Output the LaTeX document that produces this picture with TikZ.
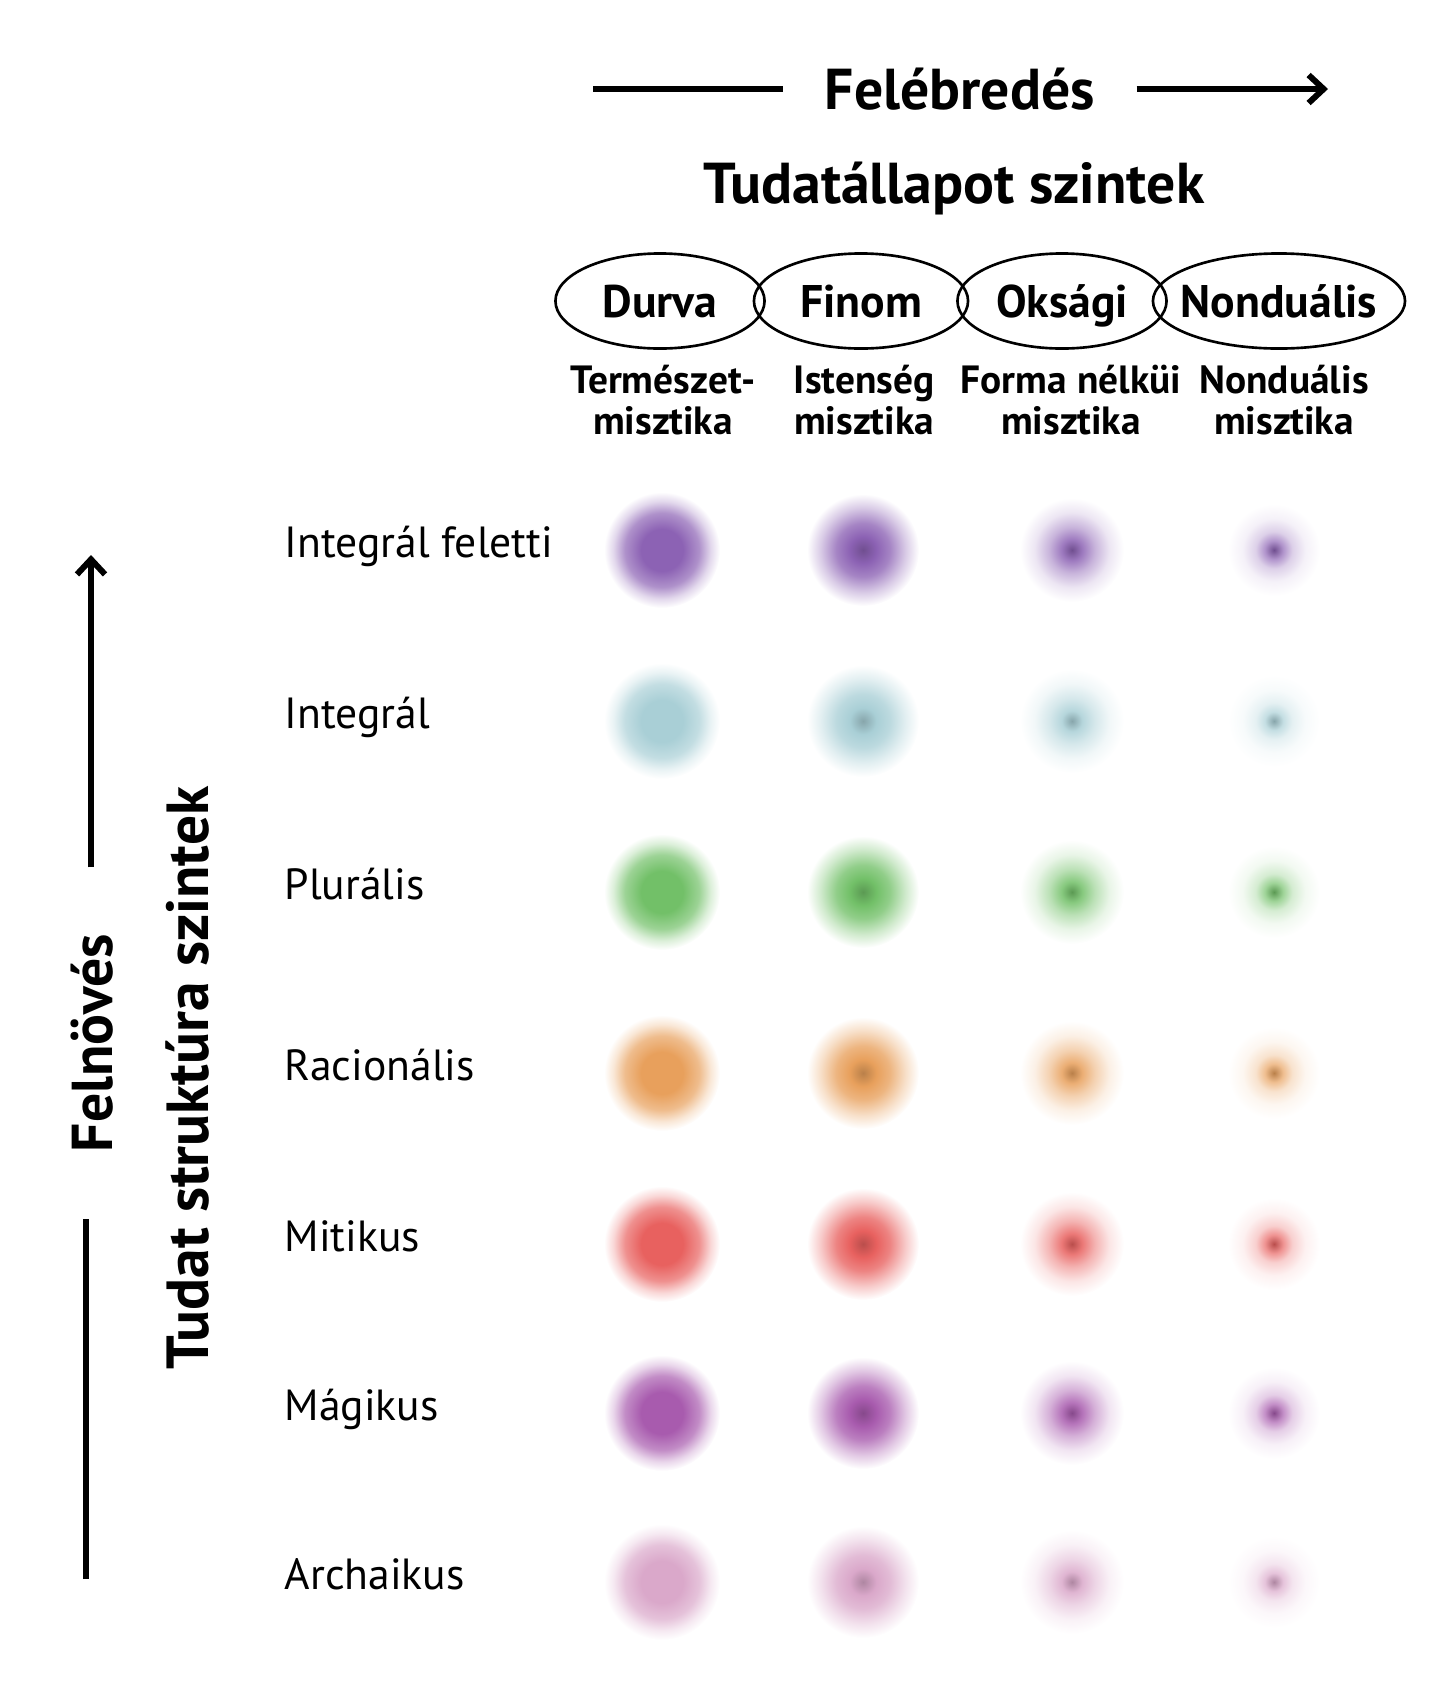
\documentclass[tikz,border=0pt]{standalone}
\usepackage{fontspec}
\setmainfont{PT Sans}
\usepackage{xcolor}
\usetikzlibrary{arrows.meta, shapes.geometric}
\definecolor{Lvl_Violet}{HTML}{8C62B4}
\definecolor{Lvl_Teal}{HTML}{A9CFD6}
\definecolor{Lvl_Green}{HTML}{72C068}
\definecolor{Lvl_Orange}{HTML}{E8A05C}
\definecolor{Lvl_Red}{HTML}{E8615F}
\definecolor{Lvl_Magenta}{HTML}{A85BAE}
\definecolor{Lvl_Pink}{HTML}{DAA8CA}
\colorlet{blobc}{Lvl_Violet}
\colorlet{blobd}{Lvl_Violet!80!black}
% soft dots, one per state column
\pgfdeclareradialshading[blobc,blobd]{blobGross}{\pgfpoint{0bp}{0bp}}{color(0bp)=(blobc); color(9bp)=(blobc); color(16bp)=(blobc!70); color(21bp)=(blobc!25); color(25bp)=(white); color(50bp)=(white)}
\pgfdeclareradialshading[blobc,blobd]{blobSubtle}{\pgfpoint{0bp}{0bp}}{color(0bp)=(blobd); color(6bp)=(blobc); color(12bp)=(blobc!78); color(19bp)=(blobc!33); color(25bp)=(white); color(50bp)=(white)}
\pgfdeclareradialshading[blobc,blobd]{blobCausal}{\pgfpoint{0bp}{0bp}}{color(0bp)=(blobd); color(5bp)=(blobc!85); color(11bp)=(blobc!48); color(18bp)=(blobc!16); color(25bp)=(white); color(50bp)=(white)}
\pgfdeclareradialshading[blobc,blobd]{blobNondual}{\pgfpoint{0bp}{0bp}}{color(0bp)=(blobd); color(5bp)=(blobc!68); color(10bp)=(blobc!30); color(17bp)=(blobc!9); color(25bp)=(white); color(50bp)=(white)}

\begin{document}
\begin{tikzpicture}[x=0.01cm, y=-0.01cm,
    every node/.style={inner sep=0pt},
    head/.style={font=\bfseries\fontsize{16.4}{19}\selectfont},
    state/.style={ellipse, draw, line width=0.75pt, minimum width=2.09cm, minimum height=0.95cm,
        label={[font=\bfseries\fontsize{13}{15}\selectfont, text height=0.7em, text depth=0pt, yshift=-0.04cm]center:#1}},
    mystic/.style={anchor=north, align=center, font=\bfseries\fontsize{11.2}{11.7}\selectfont},
    level/.style={anchor=base west, font=\fontsize{12.4}{15}\selectfont},
    axis/.style={line width=1.7pt},
    axisarrow/.style={axis, -{Straight Barb[length=1.5mm, width=2.8mm]}}]
    \useasboundingbox (0,0) rectangle (1451,1681);
    % Awakening axis on top
    \coordinate (wakeL) at (593,89);
    \coordinate (wakeR) at (1328,89);
    \node[head, inner xsep=0.41cm] (wake) at (960,89) {Felébredés};
    \draw[axis] (wakeL) -- (wake);
    \draw[axisarrow] (wake) -- (wakeR);
    \node[head] (states) at (954,188) {Tudatállapot szintek};
    % States
    \node[state=Durva] (durva) at (660,301) {};
    \node[state=Finom, minimum width=2.14cm] (finom) at (861,301) {};
    \node[state=Oksági] (oksagi) at (1062,301) {};
    \node[state=Nonduális, minimum width=2.52cm] (nondual) at (1279,301) {};
    \node[mystic] (m1) at (663,364) {Természet-\\misztika};
    \node[mystic] (m2) at (864,364) {Istenség\\misztika};
    \node[mystic] (m3) at (1071,364) {Forma nélküi\\misztika};
    \node[mystic] (m4) at (1284,364) {Nonduális\\misztika};
    % Growing-up axis on the left
    \coordinate (growTop) at (91,555);
    \coordinate (growBot) at (86,1579);
    \node[head, rotate=90, inner xsep=0.66cm] (grow) at (92,1043) {Felnövés};
    \draw[axis] (growBot) -- (growBot |- grow.west);
    \draw[axisarrow] (growTop |- grow.east) -- (growTop);
    \node[head, rotate=90, font=\bfseries\fontsize{16.9}{19}\selectfont] (structs) at (188,1078) {Tudat struktúra szintek};
    % Structure levels and their dots
    \foreach \y/\c/\name [count=\i] in {550/Lvl_Violet/Integrál feletti, 721/Lvl_Teal/Integrál,
        892/Lvl_Green/Plurális, 1073/Lvl_Orange/Racionális, 1244/Lvl_Red/Mitikus,
        1413/Lvl_Magenta/Mágikus, 1582/Lvl_Pink/Archaikus} {
        \colorlet{blobc}{\c}
        \colorlet{blobd}{\c!80!black}
        \node[level] (row\i) at (284,\y+7) {\name};
        \shade[shading=blobGross] (662,\y) circle[radius=58];
        \shade[shading=blobSubtle] (863,\y) circle[radius=56];
        \shade[shading=blobCausal] (1072,\y) circle[radius=52];
        \shade[shading=blobNondual] (1274,\y) circle[radius=46];
    }
\end{tikzpicture}
\end{document}
